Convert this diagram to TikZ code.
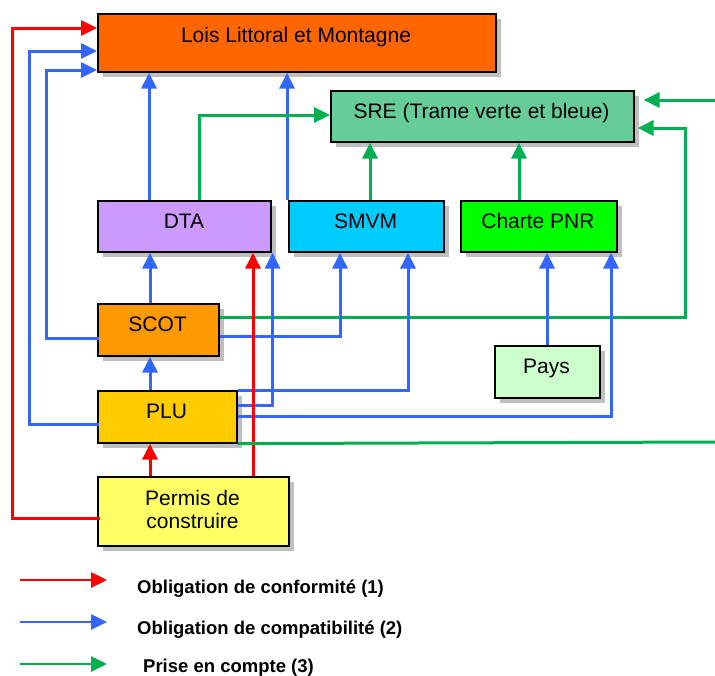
\documentclass[tikz,border=0pt]{standalone}
\usepackage{fontspec}
\setmainfont{Liberation Sans}
\usetikzlibrary{arrows.meta,shadows,calc}
\definecolor{cred}{HTML}{FF0000}
\definecolor{cblue}{HTML}{3366FF}
\definecolor{cgreen}{HTML}{00B050}
\definecolor{clois}{HTML}{FF6600}
\definecolor{csre}{HTML}{66CC99}
\definecolor{cdta}{HTML}{CC99FF}
\definecolor{csmvm}{HTML}{00CCFF}
\definecolor{ccharte}{HTML}{00FF00}
\definecolor{cscot}{HTML}{FF9900}
\definecolor{cplu}{HTML}{FFCC00}
\definecolor{cpermis}{HTML}{FFFF66}
\definecolor{cpays}{HTML}{CCFFCC}
\begin{document}
\begin{tikzpicture}[x=1pt,y=-1pt,
  box/.style={draw=black, line width=1.6pt, inner sep=0pt, anchor=north west,
    general shadow={fill=black!25, shadow xshift=5pt, shadow yshift=-5pt}},
  lbl/.style={anchor=base, font=\fontsize{21}{23}\selectfont, inner sep=0pt, align=center},
  leg/.style={anchor=base west, font=\fontsize{18.5}{20}\selectfont\bfseries, inner sep=0pt},
  tipA/.style={-{Triangle[length=16pt 0,width=15pt 0]}},
  rarr/.style={tipA, draw=cred, line width=3pt},
  barr/.style={tipA, draw=cblue, line width=3pt},
  garr/.style={tipA, draw=cgreen, line width=3pt},
  legarr/.style={line width=2.6pt, -{Triangle[length=16pt 0,width=15pt 0]}},
]
\useasboundingbox (0,0) rectangle (715,675);

% boxes
\node[box, fill=clois, minimum width=398pt, minimum height=58pt] (lois) at (97,13) {};
\node[box, fill=csre, minimum width=303pt, minimum height=51pt] (sre) at (330,90) {};
\node[box, fill=cdta, minimum width=173pt, minimum height=51pt] (dta) at (97,200) {};
\node[box, fill=csmvm, minimum width=155pt, minimum height=51pt] (smvm) at (288,200) {};
\node[box, fill=ccharte, minimum width=156pt, minimum height=51pt] (charte) at (460,200) {};
\node[box, fill=cscot, minimum width=121pt, minimum height=52pt] (scot) at (97,303) {};
\node[box, fill=cpays, minimum width=105pt, minimum height=52pt] (pays) at (494,345) {};
\node[box, fill=cplu, minimum width=139pt, minimum height=52pt] (plu) at (97,390) {};
\node[box, fill=cpermis, minimum width=191pt, minimum height=69pt] (permis) at (97,476) {};

% texts
\node[lbl] (loist) at (296,42) {Lois Littoral et Montagne};
\node[lbl] (sret) at (481.5,118) {SRE (Trame verte et bleue)};
\node[lbl] (dtat) at (184,228) {DTA};
\node[lbl] (smvmt) at (365.5,228) {SMVM};
\node[lbl] (chartet) at (538,228) {Charte PNR};
\node[lbl] (scott) at (157.5,331) {SCOT};
\node[lbl] (payst) at (546.5,373) {Pays};
\node[lbl] (plut) at (166.5,418) {PLU};
\node[lbl] (permist1) at (192.5,505) {Permis de};
\node[lbl] (permist2) at (192.5,528) {construire};

% connector coordinates
\coordinate (r1) at ($(permis.north west)+(3,42)$);
\coordinate (r1e) at ($(lois.north west)+(0,15)$);
\coordinate (b1) at ($(plu.north west)+(2,34)$);
\coordinate (b1e) at ($(lois.north west)+(0,38)$);
\coordinate (b2) at ($(scot.north west)+(2,35)$);
\coordinate (b2e) at ($(lois.north west)+(0,57)$);
\coordinate (b3) at ($(dta.north west)+(52,0)$);
\coordinate (b4) at ($(smvm.north west)+(-1,0)$);
\coordinate (g1) at ($(dta.north west)+(102,0)$);
\coordinate (g1e) at ($(sre.north west)+(0,25)$);
\coordinate (g2) at ($(smvm.north west)+(82,0)$);
\coordinate (g3) at ($(charte.north west)+(59,0)$);
\coordinate (g4) at (715,100);
\coordinate (g4e) at ($(sre.north east)+(9,10)$);
\coordinate (g5) at ($(scot.north east)+(0,14)$);
\coordinate (g5e) at ($(sre.north east)+(3,38)$);
\coordinate (b5) at ($(scot.north east)+(0,33)$);
\coordinate (b5e) at ($(smvm.south west)+(52,0)$);
\coordinate (b6) at ($(plu.north east)+(0,15)$);
\coordinate (b6e) at ($(dta.south east)+(1,0)$);
\coordinate (b7) at ($(plu.north east)+(0,0)$);
\coordinate (b7e) at ($(smvm.south west)+(120,0)$);
\coordinate (b8) at ($(plu.north east)+(0,26)$);
\coordinate (b8e) at ($(charte.south west)+(151,0)$);
\coordinate (b9) at ($(pays.north west)+(53,0)$);
\coordinate (r2) at ($(permis.north west)+(156,0)$);
\coordinate (r3) at ($(permis.north west)+(53,0)$);
\coordinate (b10) at ($(plu.north west)+(53,0)$);
\coordinate (b11) at ($(scot.north west)+(53,0)$);
\coordinate (g6) at ($(plu.south east)+(0,0)$);
\coordinate (g6e) at (715,442);

% connectors
\draw[rarr] (r1) -- ++(-88,0) |- (r1e);
\draw[barr] (b1) -- ++(-70,0) |- (b1e);
\draw[barr] (b2) -- ++(-53,0) |- (b2e);
\draw[barr] (b3) -- (b3 |- lois.south);
\draw[barr] (b4) -- (b4 |- lois.south);
\draw[garr] (g1) |- (g1e);
\draw[garr] (g2) -- (g2 |- sre.south);
\draw[garr] (g3) -- (g3 |- sre.south);
\draw[garr] (g4) -- (g4e);
\draw[garr] (g5) -- ++(466,0) |- (g5e);
\draw[barr] (b5) -| (b5e);
\draw[barr] (b6) -| (b6e);
\draw[barr] (b7) -| (b7e);
\draw[barr] (b8) -| (b8e);
\draw[barr] (b9) -- (b9 |- charte.south);
\draw[rarr] (r2) -- (r2 |- dta.south);
\draw[rarr] (r3) -- (r3 |- plu.south);
\draw[barr] (b10) -- (b10 |- scot.south);
\draw[barr] (b11) -- (b11 |- dta.south);
\draw[draw=cgreen, line width=3pt] (g6) -- (g6e);

% legend
\coordinate (l1a) at (20,580); \coordinate (l1b) at (107,580);
\coordinate (l2a) at (20,622); \coordinate (l2b) at (107,622);
\coordinate (l3a) at (20,664); \coordinate (l3b) at (107,664);
\draw[legarr, draw=cred] (l1a) -- (l1b);
\draw[legarr, draw=cblue] (l2a) -- (l2b);
\draw[legarr, draw=cgreen] (l3a) -- (l3b);
\node[leg] (leg1) at (137,593) {Obligation de conformité (1)};
\node[leg] (leg2) at (137,634) {Obligation de compatibilité (2)};
\node[leg] (leg3) at (143,672) {Prise en compte (3)};
\end{tikzpicture}
\end{document}
